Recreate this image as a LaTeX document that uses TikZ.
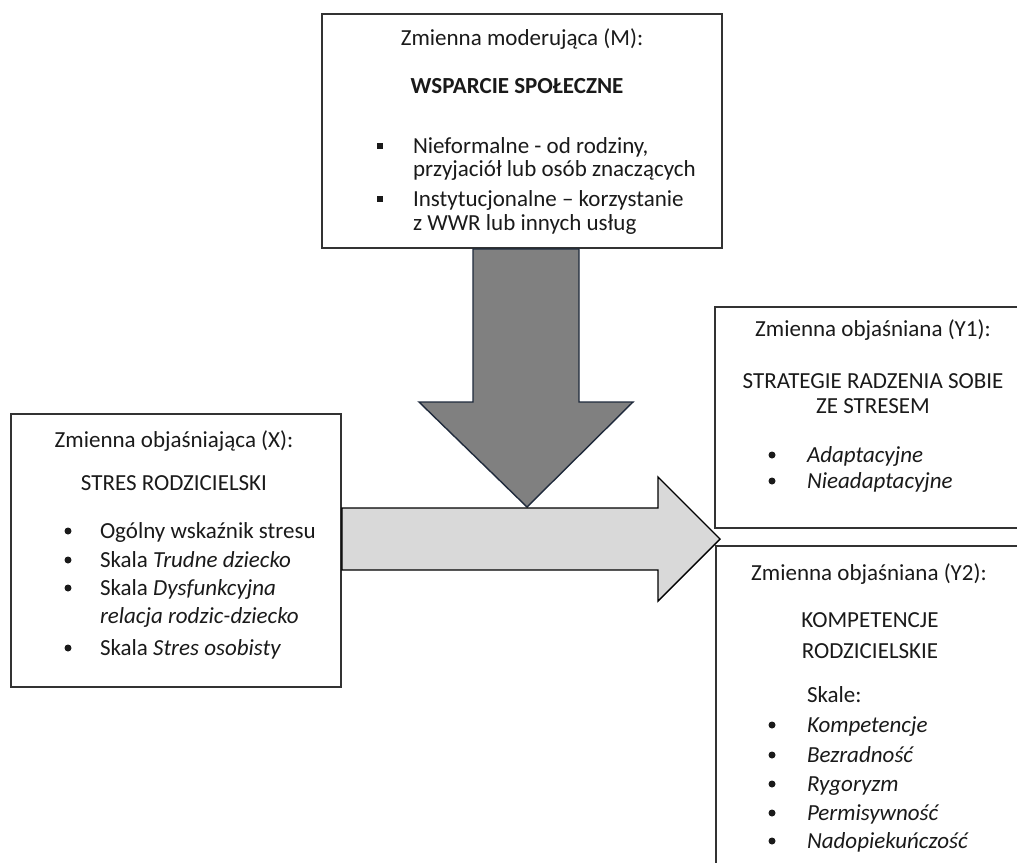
\documentclass[tikz,border=0pt]{standalone}
\usepackage{fontspec}
\setmainfont{Carlito}
\begin{document}
\begin{tikzpicture}[x=1pt,y=-1pt,
  box/.style={draw=boxline,line width=1.4pt,fill=white},
  txt/.style={inner sep=0pt,outer sep=0pt,text=txtcol,font=\fontsize{23}{28}\selectfont},
  dot/.style={circle,fill=txtcol,inner sep=0pt,minimum size=7pt},
  sq/.style={rectangle,fill=txtcol,inner sep=0pt,minimum size=6pt}]
\definecolor{boxline}{HTML}{333333}
\definecolor{txtcol}{HTML}{1A1A1A}
\definecolor{darkarrow}{HTML}{808080}
\definecolor{darkedge}{HTML}{1F2A3C}
\definecolor{lightarrow}{HTML}{D9D9D9}
\useasboundingbox (0,0) rectangle (1017,862);
\clip (0,0) rectangle (1017,862);
\fill[white] (0,0) rectangle (1017,862);
% boxes
\draw[box] (322,14) rectangle (722,248);
\draw[box] (11,414) rectangle (341,687);
\draw[box] (715,307) rectangle (1030,528);
\draw[box] (716,546) rectangle (1030,880);
% arrows
\draw[fill=darkarrow,draw=darkedge,line width=1.4pt,line join=miter]
  (473,249) -- (579,249) -- (579,402) -- (633,402) -- (527,507) -- (419,402) -- (473,402) -- cycle;
\draw[fill=lightarrow,draw=black,line width=1.4pt,line join=miter]
  (342,508) -- (658,508) -- (658,477) -- (720,539) -- (658,601) -- (658,570) -- (342,570) -- cycle;
% M box text
\node[txt,anchor=base] (m1) at (522,45) {Zmienna moderująca (M):};
\node[txt,anchor=base,font=\fontsize{23}{28}\selectfont\bfseries] (m2) at (517,93) {WSPARCIE SPOŁECZNE};
\node[sq] (mb1) at (380,146) {};
\node[txt,anchor=base west] (m3) at (413,153) {Nieformalne - od rodziny,};
\node[txt,anchor=base west] (m4) at (413,176) {przyjaciół lub osób znaczących};
\node[sq] (mb2) at (380,199) {};
\node[txt,anchor=base west] (m5) at (413,206) {Instytucjonalne – korzystanie};
\node[txt,anchor=base west] (m6) at (413,230) {z WWR lub innych usług};
% X box text
\node[txt,anchor=base] (x1) at (174,447) {Zmienna objaśniająca (X):};
\node[txt,anchor=base] (x2) at (174,490) {STRES RODZICIELSKI};
\node[dot] (xb1) at (68,531) {};
\node[txt,anchor=base west] (x3) at (100,538) {Ogólny wskaźnik stresu};
\node[dot] (xb2) at (68,560) {};
\node[txt,anchor=base west] (x4) at (100,567) {Skala \textit{Trudne dziecko}};
\node[dot] (xb3) at (68,588) {};
\node[txt,anchor=base west] (x5) at (100,595) {Skala \textit{Dysfunkcyjna}};
\node[txt,anchor=base west] (x6) at (100,623) {\textit{relacja rodzic-dziecko}};
\node[dot] (xb4) at (68,648) {};
\node[txt,anchor=base west] (x7) at (100,655) {Skala \textit{Stres osobisty}};
% Y1 box text
\node[txt,anchor=base] (y1) at (873,336) {Zmienna objaśniana (Y1):};
\node[txt,anchor=base] (y2) at (873,388) {STRATEGIE RADZENIA SOBIE};
\node[txt,anchor=base] (y3) at (873,413) {ZE STRESEM};
\node[dot] (yb1) at (772,455) {};
\node[txt,anchor=base west] (y4) at (807,462) {\textit{Adaptacyjne}};
\node[dot] (yb2) at (772,481) {};
\node[txt,anchor=base west] (y5) at (807,488) {\textit{Nieadaptacyjne}};
% Y2 box text
\node[txt,anchor=base] (z1) at (869,580) {Zmienna objaśniana (Y2):};
\node[txt,anchor=base] (z2) at (870,627) {KOMPETENCJE};
\node[txt,anchor=base] (z3) at (870,658) {RODZICIELSKIE};
\node[txt,anchor=base west] (z4) at (807,702) {Skale:};
\node[dot] (zb1) at (772,725) {};
\node[txt,anchor=base west] (z5) at (807,732) {\textit{Kompetencje}};
\node[dot] (zb2) at (772,755) {};
\node[txt,anchor=base west] (z6) at (807,762) {\textit{Bezradność}};
\node[dot] (zb3) at (772,784) {};
\node[txt,anchor=base west] (z7) at (807,791) {\textit{Rygoryzm}};
\node[dot] (zb4) at (772,813) {};
\node[txt,anchor=base west] (z8) at (807,820) {\textit{Permisywność}};
\node[dot] (zb5) at (772,841) {};
\node[txt,anchor=base west] (z9) at (807,848) {\textit{Nadopiekuńczość}};
\end{tikzpicture}
\end{document}
